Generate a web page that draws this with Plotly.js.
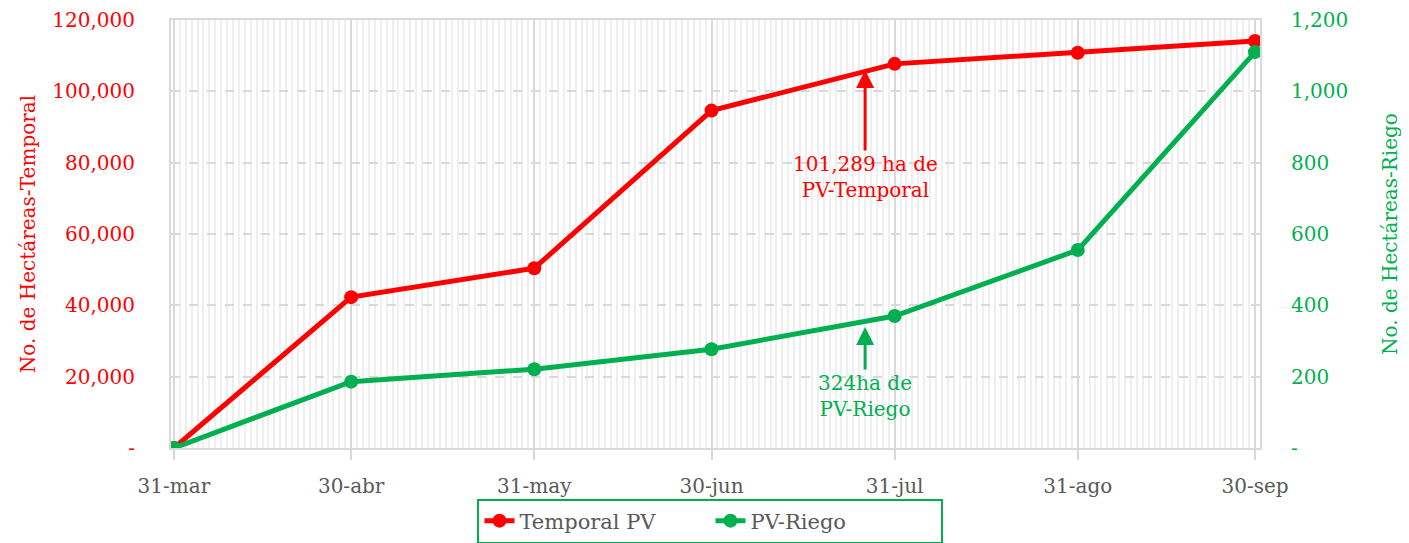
<!DOCTYPE html>
<html>
<head>
<meta charset="utf-8">
<script src="https://cdn.plot.ly/plotly-3.0.1.min.js"></script>
<style>html,body{margin:0;padding:0;background:#fff;}#chart{width:1409px;height:543px;}</style>
</head>
<body>
<div id="chart"></div>
<script>
const dates = ['2021-03-31','2021-04-30','2021-05-31','2021-06-30','2021-07-31','2021-08-31','2021-09-30'];
const tickLabels = ['31-mar','30-abr','31-may','30-jun','31-jul','31-ago','30-sep'];
const temporal = [0, 42300, 50400, 94600, 107700, 110800, 114100];
const riego = [0, 186, 221, 277, 370, 555, 1110];
const leftTicks = [0, 20000, 40000, 60000, 80000, 100000, 120000];
const leftTickText = ['-', '20,000', '40,000', '60,000', '80,000', '100,000', '120,000'];
const rightTicks = [0, 200, 400, 600, 800, 1000, 1200];
const rightTickText = ['-', '200', '400', '600', '800', '1,000', '1,200'];

const RED = '#FF0000', GREEN = '#00B050', GRAY = '#595959';
const FONT = 'DejaVu Serif, serif';

const traces = [
  {x: dates, y: temporal, name: 'Temporal PV', type: 'scatter', mode: 'lines+markers',
   line: {color: RED, width: 5}, marker: {color: RED, size: 14}, yaxis: 'y'},
  {x: dates, y: riego, name: 'PV-Riego', type: 'scatter', mode: 'lines+markers',
   line: {color: GREEN, width: 5}, marker: {color: GREEN, size: 14}, yaxis: 'y2'}
];

const layout = {
  width: 1409, height: 543,
  margin: {l: 171, r: 149, t: 20, b: 95, autoexpand: false},
  paper_bgcolor: '#fff', plot_bgcolor: '#fff',
  font: {family: FONT, size: 20, color: GRAY},
  showlegend: true,
  legend: {orientation: 'h', x: 0.4954, xanchor: 'center', y: -0.118, yanchor: 'top',
    bordercolor: GREEN, borderwidth: 2, font: {family: FONT, size: 21, color: GRAY},
    entrywidth: 186, tracegroupgap: 0},
  xaxis: {
    type: 'date',
    range: ['2021-03-30 12:00', '2021-09-30 20:24'],
    tickvals: dates, ticktext: tickLabels,
    tickfont: {family: FONT, size: 20, color: GRAY},
    showgrid: true, gridcolor: '#d9d9d9', gridwidth: 2,
    ticks: 'outside', ticklen: 10, tickcolor: '#d9d9d9', tickwidth: 2,
    ticklabelstandoff: 9,
    showline: true, linecolor: '#d9d9d9', linewidth: 2, mirror: true,
    zeroline: false,
    minor: {dtick: 86400000, tick0: '2021-03-31', showgrid: true, gridcolor: '#efefef', gridwidth: 2, ticks: ''}
  },
  yaxis: {
    range: [0, 120000], tickvals: leftTicks, ticktext: leftTickText,
    tickfont: {family: FONT, size: 20, color: RED},
    showgrid: true, gridcolor: '#d9d9d9', gridwidth: 2, griddash: 'dash',
    ticks: '', ticklabelstandoff: 30,
    showline: true, linecolor: '#d9d9d9', linewidth: 2, mirror: true,
    zeroline: false,
    title: {text: 'No. de Hectáreas-Temporal', font: {family: FONT, size: 20, color: RED}, standoff: 11},
    automargin: false
  },
  yaxis2: {
    overlaying: 'y', side: 'right',
    range: [0, 1200], tickvals: rightTicks, ticktext: rightTickText,
    tickfont: {family: FONT, size: 20, color: GREEN},
    showgrid: false, ticks: '', ticklabelstandoff: 30,
    zeroline: false,
    title: {text: 'No. de Hectáreas-Riego', font: {family: FONT, size: 20, color: GREEN}, standoff: 35},
    automargin: false
  },
  annotations: [
    {x: '2021-07-26', y: 106000, xref: 'x', yref: 'y',
     text: '101,289 ha de<br>PV-Temporal', showarrow: true, arrowhead: 2, arrowsize: 1.2,
     arrowwidth: 3, arrowcolor: RED, ax: 0, ay: 107,
     font: {family: FONT, size: 20, color: RED}, align: 'center'},
    {x: '2021-07-26', y: 339, xref: 'x', yref: 'y2',
     text: '324ha de<br>PV-Riego', showarrow: true, arrowhead: 2, arrowsize: 1.2,
     arrowwidth: 3, arrowcolor: GREEN, ax: 0, ay: 69,
     font: {family: FONT, size: 20, color: GREEN}, align: 'center'}
  ]
};

Plotly.newPlot('chart', traces, layout, {displayModeBar: false, responsive: false});
</script>
</body>
</html>
